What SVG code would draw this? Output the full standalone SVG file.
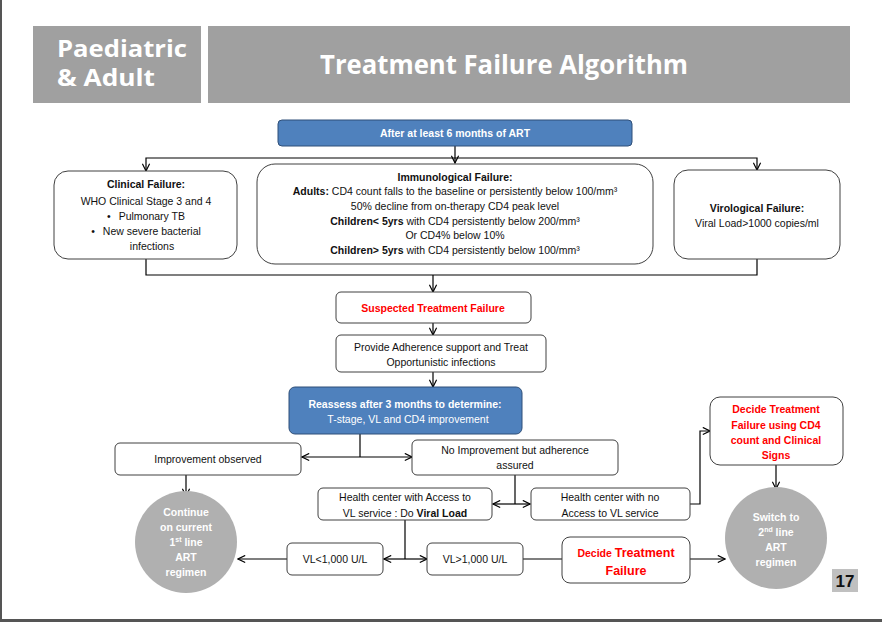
<svg xmlns="http://www.w3.org/2000/svg" width="882" height="622" viewBox="0 0 882 622">
<defs>
<marker id="ah" viewBox="0 0 10 10" refX="9" refY="5" markerWidth="9" markerHeight="9" markerUnits="userSpaceOnUse" orient="auto">
<path d="M1,1 L9,5 L1,9" fill="none" stroke="#000" stroke-width="1.3"/>
</marker>
<style>
.box{fill:#fff;stroke:#404040;stroke-width:1}
.blue{fill:#4f81bd;stroke:#2f4f78;stroke-width:1}
.circ{fill:#b0b0b0}
.t{font-family:"Liberation Sans",Arial,sans-serif;font-size:10.5px;fill:#111;text-anchor:middle}
.b{font-weight:bold}
.w{fill:#fff}
.r{fill:#ff0000;font-weight:bold}
.hd{font-family:"Open Sans","Liberation Sans",sans-serif;font-weight:bold;fill:#fff}
.c{fill:none;stroke:#000;stroke-width:1.2}
.a{marker-end:url(#ah)}
</style>
</defs>
<rect x="0" y="0" width="882" height="622" fill="#fff"/>
<rect x="0" y="0" width="2" height="622" fill="#555"/>
<rect x="0" y="619" width="882" height="3" fill="#555"/>

<g id="header">
<rect x="33" y="26" width="168" height="77" fill="#a0a0a0"/>
<rect x="208" y="26" width="642" height="77" fill="#a0a0a0"/>
<text class="hd" x="57" y="57" font-size="23.5" textLength="130" lengthAdjust="spacingAndGlyphs">Paediatric</text>
<text class="hd" x="57" y="86" font-size="23.5" textLength="98" lengthAdjust="spacingAndGlyphs">&amp; Adult</text>
<text class="hd" x="320" y="74" font-size="27" textLength="368" lengthAdjust="spacingAndGlyphs">Treatment Failure Algorithm</text>
</g>

<g id="connectors">
<path class="c a" d="M455,146 V163"/>
<path class="c a" d="M455,158 H146 V171"/>
<path class="c a" d="M455,158 H757 V170"/>
<path class="c" d="M146,259 V275 H757 V259"/>
<path class="c a" d="M433,275 V292"/>
<path class="c a" d="M433,323 V335"/>
<path class="c a" d="M433,372 V387"/>
<path class="c" d="M360,434 V457"/>
<path class="c a" d="M360,457 H302"/>
<path class="c a" d="M360,457 H412"/>
<path class="c a" d="M186,475 V496"/>
<path class="c" d="M515,475 V504"/>
<path class="c a" d="M515,504 H493"/>
<path class="c a" d="M515,504 H530"/>
<path class="c a" d="M690,504 H700 V431 H710"/>
<path class="c a" d="M776,465 V489"/>
<path class="c" d="M405,520 V559"/>
<path class="c a" d="M405,559 H384"/>
<path class="c a" d="M405,559 H427"/>
<path class="c a" d="M287,559 H238"/>
<path class="c" d="M523,559 H562"/>
<path class="c a" d="M690,559 H725"/>
</g>

<g id="start">
<rect class="blue" x="278" y="120" width="354" height="26" rx="4"/>
<text class="t b w" x="455" y="137">After  at least 6 months of ART</text>
</g>

<g id="clinical">
<rect class="box" x="54" y="171" width="183" height="88" rx="14"/>
<text class="t b" x="146" y="188">Clinical Failure:</text>
<text class="t" x="146" y="205">WHO Clinical Stage 3 and 4</text>
<text class="t" x="146" y="220">•<tspan dx="8">Pulmonary TB</tspan></text>
<text class="t" x="146" y="235">•<tspan dx="8">New severe bacterial</tspan></text>
<text class="t" x="152" y="250">infections</text>
</g>

<g id="immunological">
<rect class="box" x="257" y="164" width="396" height="100" rx="18"/>
<text class="t b" x="455" y="181">Immunological Failure:</text>
<text class="t" x="455" y="195"><tspan class="b">Adults:</tspan> CD4 count falls to the baseline or persistently below 100/mm³</text>
<text class="t" x="455" y="210">50% decline from on-therapy CD4 peak level</text>
<text class="t" x="455" y="225"><tspan class="b">Children&lt; 5yrs</tspan> with CD4 persistently below 200/mm³</text>
<text class="t" x="455" y="239">Or CD4% below 10%</text>
<text class="t" x="455" y="254"><tspan class="b">Children&gt; 5yrs</tspan> with CD4 persistently below 100/mm³</text>
</g>

<g id="virological">
<rect class="box" x="674" y="170" width="166" height="89" rx="14"/>
<text class="t b" x="757" y="212">Virological Failure:</text>
<text class="t" x="757" y="227">Viral Load&gt;1000 copies/ml</text>
</g>

<g id="suspected">
<rect class="box" x="336" y="292" width="195" height="31" rx="5"/>
<text class="t r" x="433" y="312">Suspected Treatment Failure</text>
</g>

<g id="adherence">
<rect class="box" x="336" y="335" width="210" height="37" rx="5"/>
<text class="t" x="441" y="351">Provide Adherence support and Treat</text>
<text class="t" x="441" y="366">Opportunistic infections</text>
</g>

<g id="reassess">
<rect class="blue" x="289" y="387" width="233" height="47" rx="6"/>
<text class="t b w" x="405" y="408">Reassess after 3 months to determine:</text>
<text class="t w" x="408" y="423">T-stage, VL and CD4 improvement</text>
</g>

<g id="improvement">
<rect class="box" x="115" y="443" width="186" height="32" rx="5"/>
<text class="t" x="208" y="463">Improvement observed</text>
</g>

<g id="noimprovement">
<rect class="box" x="412" y="440" width="206" height="35" rx="5"/>
<text class="t" x="515" y="454">No Improvement but adherence</text>
<text class="t" x="515" y="469">assured</text>
</g>

<g id="vlaccess">
<rect class="box" x="318" y="488" width="174" height="32" rx="5"/>
<text class="t" x="405" y="501">Health center with Access to</text>
<text class="t" x="405" y="517">VL service : Do <tspan class="b">Viral Load</tspan></text>
</g>

<g id="novlaccess">
<rect class="box" x="531" y="488" width="159" height="32" rx="5"/>
<text class="t" x="610" y="501">Health center with no</text>
<text class="t" x="610" y="517">Access to VL service</text>
</g>

<g id="decidecd4">
<rect class="box" x="710" y="397" width="133" height="68" rx="10"/>
<text class="t r" x="776" y="413">Decide Treatment</text>
<text class="t r" x="776" y="429">Failure using CD4</text>
<text class="t r" x="776" y="444">count and Clinical</text>
<text class="t r" x="776" y="459">Signs</text>
</g>

<g id="continue">
<circle class="circ" cx="186" cy="542" r="51"/>
<text class="t b w" x="186" y="516">Continue</text>
<text class="t b w" x="186" y="531">on current</text>
<text class="t b w" x="186" y="546">1<tspan style="font-size:7px" dy="-4">st</tspan><tspan dy="4"> line</tspan></text>
<text class="t b w" x="186" y="561">ART</text>
<text class="t b w" x="186" y="576">regimen</text>
</g>

<g id="vllow">
<rect class="box" x="287" y="543" width="96" height="32" rx="5"/>
<text class="t" x="335" y="563">VL&lt;1,000 U/L</text>
</g>

<g id="vlhigh">
<rect class="box" x="427" y="543" width="96" height="32" rx="5"/>
<text class="t" x="475" y="563">VL&gt;1,000 U/L</text>
</g>

<g id="decide">
<rect class="box" x="562" y="537" width="128" height="46" rx="8"/>
<text class="t r" x="626" y="557"><tspan>Decide </tspan><tspan style="font-size:12.5px">Treatment</tspan></text>
<text class="t r" x="626" y="575" style="font-size:12.5px">Failure</text>
</g>

<g id="switch">
<circle class="circ" cx="776" cy="538" r="51"/>
<text class="t b w" x="776" y="521">Switch to</text>
<text class="t b w" x="776" y="536">2<tspan style="font-size:7px" dy="-4">nd</tspan><tspan dy="4"> line</tspan></text>
<text class="t b w" x="776" y="551">ART</text>
<text class="t b w" x="776" y="566">regimen</text>
</g>

<g id="pagenum">
<rect x="832" y="569" width="26" height="23" fill="#c0c0c0"/>
<text x="845" y="587" font-family="Liberation Sans,Arial,sans-serif" font-size="17" font-weight="bold" fill="#111" text-anchor="middle">17</text>
</g>
</svg>
